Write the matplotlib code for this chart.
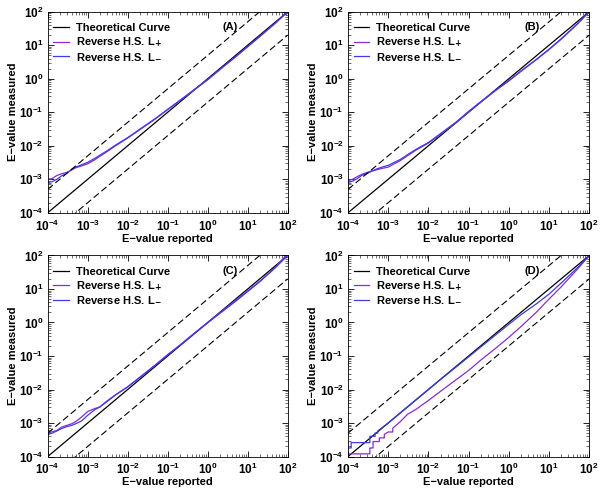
import numpy as np
import matplotlib.pyplot as plt

plt.rcParams['font.family'] = ['Liberation Sans', 'DejaVu Sans']
plt.rcParams['font.weight'] = 'bold'
plt.rcParams['axes.labelweight'] = 'bold'
plt.rcParams['mathtext.default'] = 'bf'

# reported E-values (x) and measured E-values (y)
x_a = [1e-4, 1.3e-4, 1.7e-4, 2.2e-4, 3e-4, 4e-4, 5e-4, 7e-4, 1e-3, 1.5e-3, 2e-3,
       3e-3, 5e-3, 1e-2, 2e-2, 5e-2, 1e-1, 2e-1, 5e-1, 1, 2, 5, 10, 20, 50, 100]
a_plus = [1.0e-3, 1.05e-3, 1.3e-3, 1.45e-3, 1.6e-3, 1.9e-3, 2.2e-3, 2.5e-3, 2.9e-3,
          3.8e-3, 4.8e-3, 6.6e-3, 1.0e-2, 1.7e-2, 3.0e-2, 6.4e-2, 0.12, 0.22,
          0.50, 0.93, 1.85, 4.5, 9.0, 18, 46, 100]
a_minus = [8.0e-4, 8.5e-4, 1.0e-3, 1.25e-3, 1.5e-3, 2.0e-3, 2.3e-3, 2.7e-3, 3.2e-3,
           4.2e-3, 5.2e-3, 7.0e-3, 1.05e-2, 1.75e-2, 3.1e-2, 6.6e-2, 0.122, 0.225,
           0.51, 0.95, 1.9, 4.6, 9.2, 18.5, 47, 100]

x_b = x_a
b_plus = [9.0e-4, 1.0e-3, 1.2e-3, 1.4e-3, 1.6e-3, 1.8e-3, 1.9e-3, 2.1e-3, 2.3e-3,
          3.0e-3, 3.6e-3, 5.0e-3, 7.5e-3, 1.2e-2, 2.2e-2, 5.0e-2, 0.102, 0.20,
          0.47, 0.86, 1.65, 3.8, 7.4, 15, 42, 100]
b_minus = [8.0e-4, 8.8e-4, 1.05e-3, 1.3e-3, 1.5e-3, 1.75e-3, 2.0e-3, 2.3e-3, 2.6e-3,
           3.3e-3, 3.9e-3, 5.4e-3, 7.9e-3, 1.25e-2, 2.3e-2, 5.2e-2, 0.106, 0.205,
           0.48, 0.88, 1.7, 3.9, 7.6, 15.5, 43, 100]

x_c = x_a
c_plus = [5.0e-4, 5.5e-4, 6.0e-4, 7.5e-4, 8.5e-4, 9.5e-4, 1.1e-3, 1.5e-3, 2.2e-3,
          2.7e-3, 3.0e-3, 4.5e-3, 7.0e-3, 1.2e-2, 2.3e-2, 5.5e-2, 0.11, 0.21,
          0.52, 1.0, 1.95, 4.6, 8.8, 17, 45, 115]
c_minus = [4.5e-4, 5.0e-4, 5.8e-4, 6.8e-4, 7.8e-4, 8.5e-4, 9.5e-4, 1.15e-3, 1.7e-3,
           2.5e-3, 3.0e-3, 4.3e-3, 6.9e-3, 1.2e-2, 2.3e-2, 5.4e-2, 0.108, 0.205,
           0.50, 0.98, 1.85, 4.3, 8.4, 16.5, 44, 100]

x_d_plus = [1e-4, 3.5e-4, 3.5e-4, 4.2e-4, 4.2e-4, 6e-4, 6e-4, 8e-4, 8e-4, 1e-3,
            1.3e-3, 1.3e-3, 2e-3, 3e-3, 5e-3, 1e-2, 2e-2, 5e-2, 1e-1, 2e-1,
            5e-1, 1, 2, 5, 10, 20, 50, 100]
d_plus = [1.2e-4, 1.2e-4, 1.8e-4, 1.8e-4, 2.8e-4, 2.8e-4, 3.6e-4, 3.6e-4, 4.6e-4,
          5.4e-4, 5.4e-4, 7.0e-4, 1.1e-3, 1.8e-3, 2.6e-3, 4.7e-3, 8.8e-3, 2.0e-2,
          3.7e-2, 7.5e-2, 0.18, 0.36, 0.75, 2.1, 5.0, 11.5, 38, 100]
x_d_minus = [1e-4, 1.2e-4, 1.2e-4, 3.5e-4, 3.5e-4, 4.7e-4, 4.7e-4, 5.5e-4, 5.5e-4,
             1e-3, 2e-3, 3e-3, 5e-3, 1e-2, 2e-2, 5e-2, 1e-1, 2e-1, 5e-1, 1, 2,
             5, 10, 20, 50, 100]
d_minus = [1.8e-4, 1.8e-4, 2.6e-4, 2.6e-4, 4.0e-4, 4.0e-4, 5.0e-4, 5.0e-4, 5.8e-4,
           1.0e-3, 2.0e-3, 3.0e-3, 5.0e-3, 1.0e-2, 2.0e-2, 4.8e-2, 9.4e-2, 0.185,
           0.45, 0.88, 1.7, 3.7, 7.0, 15, 42, 100]

panels = [
    ('(A)', x_a, a_plus, x_a, a_minus),
    ('(B)', x_b, b_plus, x_b, b_minus),
    ('(C)', x_c, c_plus, x_c, c_minus),
    ('(D)', x_d_plus, d_plus, x_d_minus, d_minus),
]

col_plus = '#8A2BD0'
col_minus = '#3C3CE8'

fig = plt.figure(figsize=(6, 4.88), dpi=100)
positions = [
    [0.0795, 0.564, 0.400, 0.412],
    [0.580, 0.564, 0.402, 0.412],
    [0.0795, 0.0645, 0.400, 0.412],
    [0.580, 0.0645, 0.402, 0.412],
]

ref = np.array([1e-4, 1e2])

for pos, (tag, xp, yp, xm, ym) in zip(positions, panels):
    ax = fig.add_axes(pos)
    ax.set_xscale('log')
    ax.set_yscale('log')
    ax.plot(ref, ref, color='black', lw=0.9, label='Theoretical Curve')
    ax.plot(xp, yp, color=col_plus, lw=0.9, label='Reverse H.S. L$_{+}$')
    ax.plot(xm, ym, color=col_minus, lw=0.9, label='Reverse H.S. L$_{-}$')
    ax.plot(ref, ref * 5, color='black', lw=0.8, ls=(0, (6, 3)))
    ax.plot(ref, ref / 5, color='black', lw=0.8, ls=(0, (6, 3)))
    ax.set_xlim(1e-4, 1e2)
    ax.set_ylim(1e-4, 1e2)
    ax.set_xticks([1e-4, 1e-3, 1e-2, 1e-1, 1, 10, 100])
    ax.set_yticks([1e-4, 1e-3, 1e-2, 1e-1, 1, 10, 100])
    ax.tick_params(which='both', direction='in', top=True, right=True, labelsize=8.5)
    ax.tick_params(which='major', length=4, width=0.6)
    ax.tick_params(which='minor', length=2, width=0.4)
    ax.tick_params(axis='x', which='major', pad=4)
    ax.tick_params(axis='y', which='major', pad=3)
    ax.set_xlabel('E\u2212value reported', fontsize=8, labelpad=0)
    ax.set_ylabel('E\u2212value measured', fontsize=8, labelpad=1)
    ax.text(0.73, 0.925, tag, transform=ax.transAxes, fontsize=8,
            fontweight='bold', va='center')
    ax.legend(loc='upper left', bbox_to_anchor=(0.005, 0.965), frameon=False,
              fontsize=8, handlelength=1.4, handletextpad=0.6, borderaxespad=0,
              labelspacing=0.2)
    for s in ax.spines.values():
        s.set_linewidth(0.6)

fig.savefig('out.png', dpi=100)
